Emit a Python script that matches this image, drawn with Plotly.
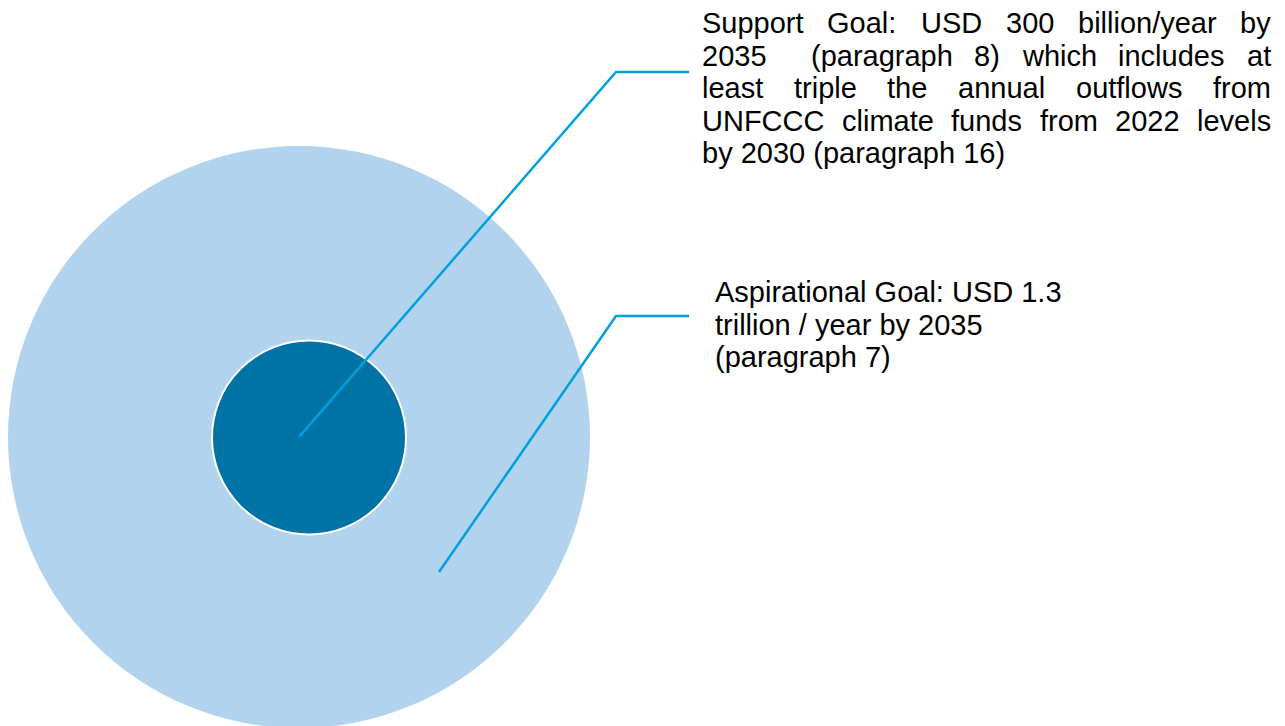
import plotly.graph_objects as go

# ---- data ----
goal_names = ["Aspirational Goal", "Support Goal"]
goal_values_usd_bn = [1300, 300]
support_lines = [
    "Support Goal: USD 300 billion/year by",
    "2035  (paragraph 8) which includes at",
    "least triple the annual outflows from",
    "UNFCCC climate funds from 2022 levels",
    "by 2030 (paragraph 16)",
]
aspirational_lines = [
    "Aspirational Goal: USD 1.3",
    "trillion / year by 2035",
    "(paragraph 7)",
]

# ---- layout / style ----
W, H = 1285, 726
FONT = "Liberation Sans, Arial, sans-serif"
FS = 29
LIGHT = "#B2D3EE"
DARK = "#0073A6"
LINE = "#00A0E0"

big = dict(cx=299, cy=437, r=291)
small = dict(cx=309, cy=437.5, r=97)

# Arial advance widths (per 1000 em)
AW = {" ": 278, "(": 333, ")": 333, "/": 278, ":": 278, ".": 278,
      "A": 667, "C": 722, "D": 722, "F": 611, "G": 778, "N": 722, "S": 667, "U": 722,
      "a": 556, "b": 556, "c": 500, "d": 556, "e": 556, "f": 278, "g": 556, "h": 556,
      "i": 222, "j": 222, "k": 500, "l": 222, "m": 833, "n": 556, "o": 556, "p": 556,
      "q": 556, "r": 333, "s": 500, "t": 278, "u": 556, "v": 500, "w": 722, "x": 500,
      "y": 500, "z": 500}
for d in "0123456789":
    AW[d] = 556


def tw(s):
    return sum(AW.get(c, 556) for c in s) * FS / 1000.0


fig = go.Figure()

shapes = [
    dict(type="circle", xref="x", yref="y", layer="below",
         x0=big["cx"] - big["r"], x1=big["cx"] + big["r"],
         y0=big["cy"] - big["r"], y1=big["cy"] + big["r"],
         fillcolor=LIGHT, line=dict(width=0)),
    dict(type="circle", xref="x", yref="y", layer="below",
         x0=small["cx"] - small["r"], x1=small["cx"] + small["r"],
         y0=small["cy"] - small["r"], y1=small["cy"] + small["r"],
         fillcolor=DARK, line=dict(width=2, color="white")),
]

# leader lines
leaders = [
    ([299, 616, 689], [437, 72, 72]),
    ([439, 616, 689], [572, 316, 316]),
]
for xs, ys in leaders:
    fig.add_trace(go.Scatter(x=xs, y=ys, mode="lines",
                             line=dict(color=LINE, width=2.5),
                             hoverinfo="skip", showlegend=False))

annotations = []


def add_text(txt, x, y_base, anchor="left"):
    annotations.append(dict(text=txt, x=x, y=y_base - 0.3465 * FS, xref="x", yref="y",
                            xanchor=anchor, yanchor="middle", showarrow=False,
                            borderpad=0, borderwidth=0,
                            font=dict(family=FONT, size=FS, color="black")))


# justified support text
L, R = 702, 1271
base0, step = 33.3, 32.5
for i, line in enumerate(support_lines):
    yb = base0 + i * step
    if i == len(support_lines) - 1:
        add_text(line, L, yb)
        continue
    words = line.split(" ")
    wsum = sum(tw(w) for w in words)
    gap = (R - L - wsum) / (len(words) - 1)
    x = L
    for w in words:
        if w:
            add_text(w, x, yb)
        x += tw(w) + gap

# aspirational text
for i, line in enumerate(aspirational_lines):
    add_text(line, 715, 302.5 + i * 32.5)

fig.update_layout(
    width=W, height=H,
    margin=dict(l=0, r=0, t=0, b=0),
    paper_bgcolor="white", plot_bgcolor="white",
    xaxis=dict(range=[0, W], visible=False, fixedrange=True),
    yaxis=dict(range=[H, 0], visible=False, fixedrange=True),
    shapes=shapes, annotations=annotations, showlegend=False,
)

fig.write_html("out.html")
